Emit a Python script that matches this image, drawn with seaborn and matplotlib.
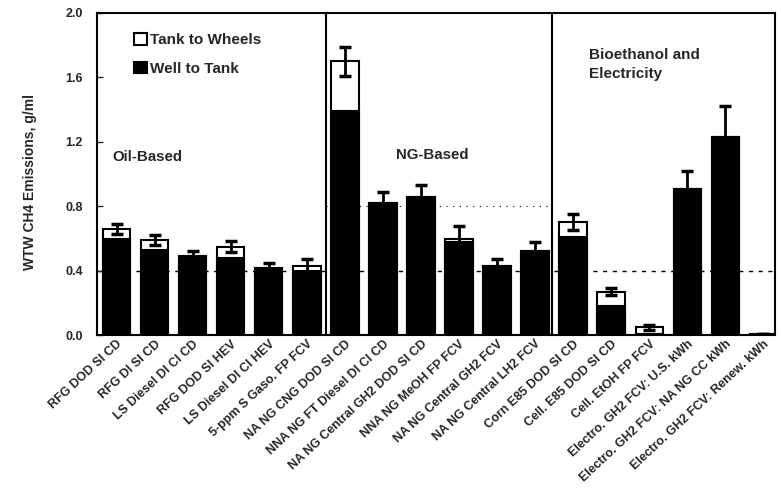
import pandas as pd
import matplotlib
matplotlib.use("Agg")
import matplotlib.pyplot as plt
import seaborn as sns

# pathways, grouped as oil / NG / bioethanol+electricity
pathways = [
    "RFG DOD SI CD", "RFG DI SI CD", "LS Diesel DI CI CD", "RFG DOD SI HEV",
    "LS Diesel DI CI HEV", "5-ppm S Gaso. FP FCV",
    "NA NG CNG DOD SI CD", "NNA NG FT Diesel DI CI CD", "NA NG Central GH2 DOD SI CD",
    "NNA NG MeOH FP FCV", "NA NG Central GH2 FCV", "NA NG Central LH2 FCV",
    "Corn E85 DOD SI CD", "Cell. E85 DOD SI CD", "Cell. EtOH FP FCV",
    "Electro. GH2 FCV: U.S. kWh", "Electro. GH2 FCV: NA NG CC kWh",
    "Electro. GH2 FCV: Renew. kWh",
]
well_to_tank = [0.60, 0.53, 0.49, 0.48, 0.42, 0.40,
                1.39, 0.82, 0.86, 0.58, 0.43, 0.52,
                0.61, 0.18, 0.01, 0.91, 1.23, 0.01]
tank_to_wheels = [0.06, 0.06, 0.00, 0.07, 0.00, 0.03,
                  0.31, 0.00, 0.00, 0.02, 0.00, 0.00,
                  0.09, 0.09, 0.04, 0.00, 0.00, 0.00]
err = [0.03, 0.03, 0.03, 0.035, 0.03, 0.045,
       0.09, 0.07, 0.07, 0.08, 0.04, 0.06,
       0.05, 0.02, 0.015, 0.11, 0.19, 0.0]

df = pd.DataFrame({"pathway": pathways, "wtt": well_to_tank, "ttw": tank_to_wheels, "err": err})
df["total"] = df["wtt"] + df["ttw"]

sns.set_style("ticks")
plt.rcParams["font.family"] = ["Liberation Sans", "DejaVu Sans"]
plt.rcParams["font.weight"] = "bold"

fig = plt.figure(figsize=(7.81, 4.93), dpi=100)
ax = fig.add_axes([0.124, 0.32, 0.868, 0.654])

# reference lines behind the bars
ax.axhline(0.4, color="black", lw=1, ls=(0, (3, 4)), zorder=0)
ax.plot([5.5, 11.45], [0.8, 0.8], color="black", lw=0.8, ls=(0, (1, 5)), zorder=0)

sns.barplot(data=df, x="pathway", y="total", order=pathways, color="white",
            edgecolor="black", linewidth=1.5, width=0.72, ax=ax, zorder=2,
            label="Tank to Wheels")
sns.barplot(data=df, x="pathway", y="wtt", order=pathways, color="black",
            edgecolor="black", linewidth=1.5, width=0.72, ax=ax, zorder=3,
            label="Well to Tank")
ax.errorbar(range(len(pathways)), df["total"], yerr=df["err"], fmt="none",
            ecolor="black", elinewidth=2, capsize=4, capthick=2.5, zorder=4)

for xv in (5.5, 11.45):
    ax.axvline(xv, color="black", lw=1.5, zorder=5)

ax.set_xlim(-0.52, 17.3)
ax.set_ylim(0, 2.0)
ax.set_yticks([0.0, 0.4, 0.8, 1.2, 1.6, 2.0])
ax.set_yticklabels(["0.0", "0.4", "0.8", "1.2", "1.6", "2.0"], fontsize=9, fontweight="bold")
ax.tick_params(axis="y", direction="in", length=4, width=1, pad=10)
ax.tick_params(axis="x", length=0, pad=2)
ax.set_xticks(range(len(pathways)))
ax.set_xticklabels(pathways, rotation=43, ha="right", rotation_mode="anchor",
                   fontsize=9, fontweight="bold")
ax.set_xlabel("")
ax.set_ylabel("WTW CH4 Emissions, g/ml", fontsize=10, fontweight="bold")
ax.yaxis.set_label_coords(-0.088, 0.475)
for s in ax.spines.values():
    s.set_linewidth(1.5)
    s.set_color("black")

ax.text(-0.1, 1.105, "Oil-Based", fontsize=10.8, fontweight="bold", ha="left", va="center")
ax.text(7.35, 1.12, "NG-Based", fontsize=10.8, fontweight="bold", ha="left", va="center")
ax.text(12.41, 1.78, "Bioethanol and\nElectricity", fontsize=11, fontweight="bold",
        ha="left", va="top", linespacing=1.4)

leg = ax.legend(loc="upper left", bbox_to_anchor=(0.035, 0.98), frameon=False,
                fontsize=11, handlelength=0.8, handleheight=0.8, handletextpad=0.2,
                labelspacing=0.95)
for t in leg.get_texts():
    t.set_fontweight("bold")

fig.savefig("out.png", dpi=100)
